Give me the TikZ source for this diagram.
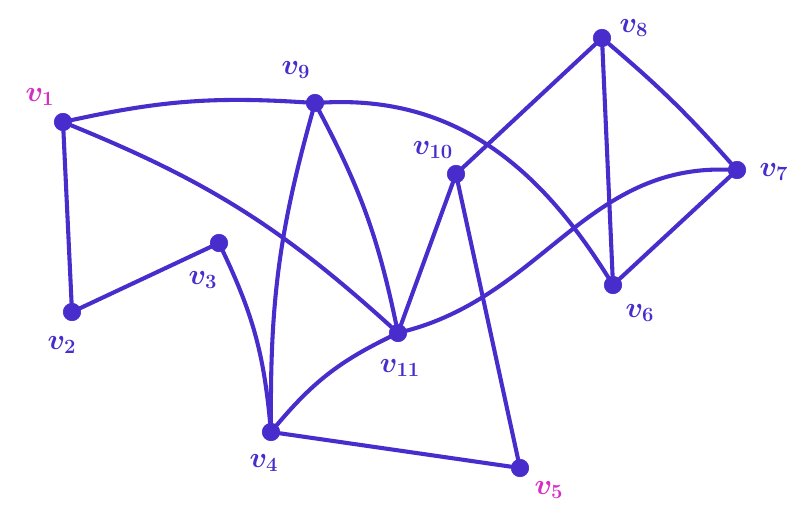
\documentclass[tikz,border=0pt]{standalone}
\usepackage{amsmath}
\usepackage{tikz}
\usetikzlibrary{calc, positioning}

\definecolor{penblue}{RGB}{72,44,204}
\definecolor{penpink}{RGB}{214,46,196}

\begin{document}
\begin{tikzpicture}[
    x=0.025cm, y=-0.025cm,
    vertex/.style={
        circle, fill=penblue, draw=penblue,
        minimum size=0.44cm, inner sep=0pt
    },
    lbl/.style={
        text=penblue, font=\huge\boldmath, inner sep=0pt
    },
    pinklbl/.style={lbl, text=penpink},
    edge/.style={draw=penblue, line width=2.9pt, line cap=round},
]
\useasboundingbox (0,0) rectangle (792,513);

% Nodes
\node (v1)  [vertex] at (63,122) {};
\node (v2)  [vertex] at (72,312) {};
\node (v3)  [vertex] at (219,243) {};
\node (v4)  [vertex] at (271,432) {};
\node (v5)  [vertex] at (520,468) {};
\node (v6)  [vertex] at (613,285) {};
\node (v7)  [vertex] at (737,170) {};
\node (v8)  [vertex] at (602,38) {};
\node (v9)  [vertex] at (315,103) {};
\node (v10) [vertex] at (456,174) {};
\node (v11) [vertex] at (398,333) {};

% Labels
\node (l1)  [pinklbl] at (40,97)   {$v_{1}$};
\node (l2)  [lbl]     at (62,345)  {$v_{2}$};
\node (l3)  [lbl]     at (203,280) {$v_{3}$};
\node (l4)  [lbl]     at (264,463) {$v_{4}$};
\node (l5)  [pinklbl] at (549,490) {$v_{5}$};
\node (l6)  [lbl]     at (640,313) {$v_{6}$};
\node (l7)  [lbl]     at (774,172) {$v_{7}$};
\node (l8)  [lbl]     at (634,28)  {$v_{8}$};
\node (l9)  [lbl]     at (296,70)  {$v_{9}$};
\node (l10) [lbl]     at (433,150) {$v_{10}$};
\node (l11) [lbl]     at (400,368) {$v_{11}$};

% Edges
\draw [edge] (v1) to[bend left=8] (v9);
\draw [edge] (v1) to[bend left=10] (v11);
\draw [edge] (v1) -- (v2);
\draw [edge] (v2) -- (v3);
\draw [edge] (v3) to[bend left=10] (v4);

\draw [edge] (v9) to[bend right=8] (v4);
\draw [edge] (v9) to[bend left=8] (v11);
\draw [edge] (v9) to[out=3, in=122] (v6);

\draw [edge] (v10) -- (v8);
\draw [edge] (v10) -- (v11);
\draw [edge] (v10) -- (v5);

\draw [edge] (v11) to[bend right=12] (v4);
\draw [edge] (v11) to[out=15, in=178] (v7);
\draw [edge] (v4) -- (v5);

\draw [edge] (v8) -- (v6);
\draw [edge] (v8) to[bend left=4] (v7);
\draw [edge] (v7) -- (v6);

\end{tikzpicture}
\end{document}
